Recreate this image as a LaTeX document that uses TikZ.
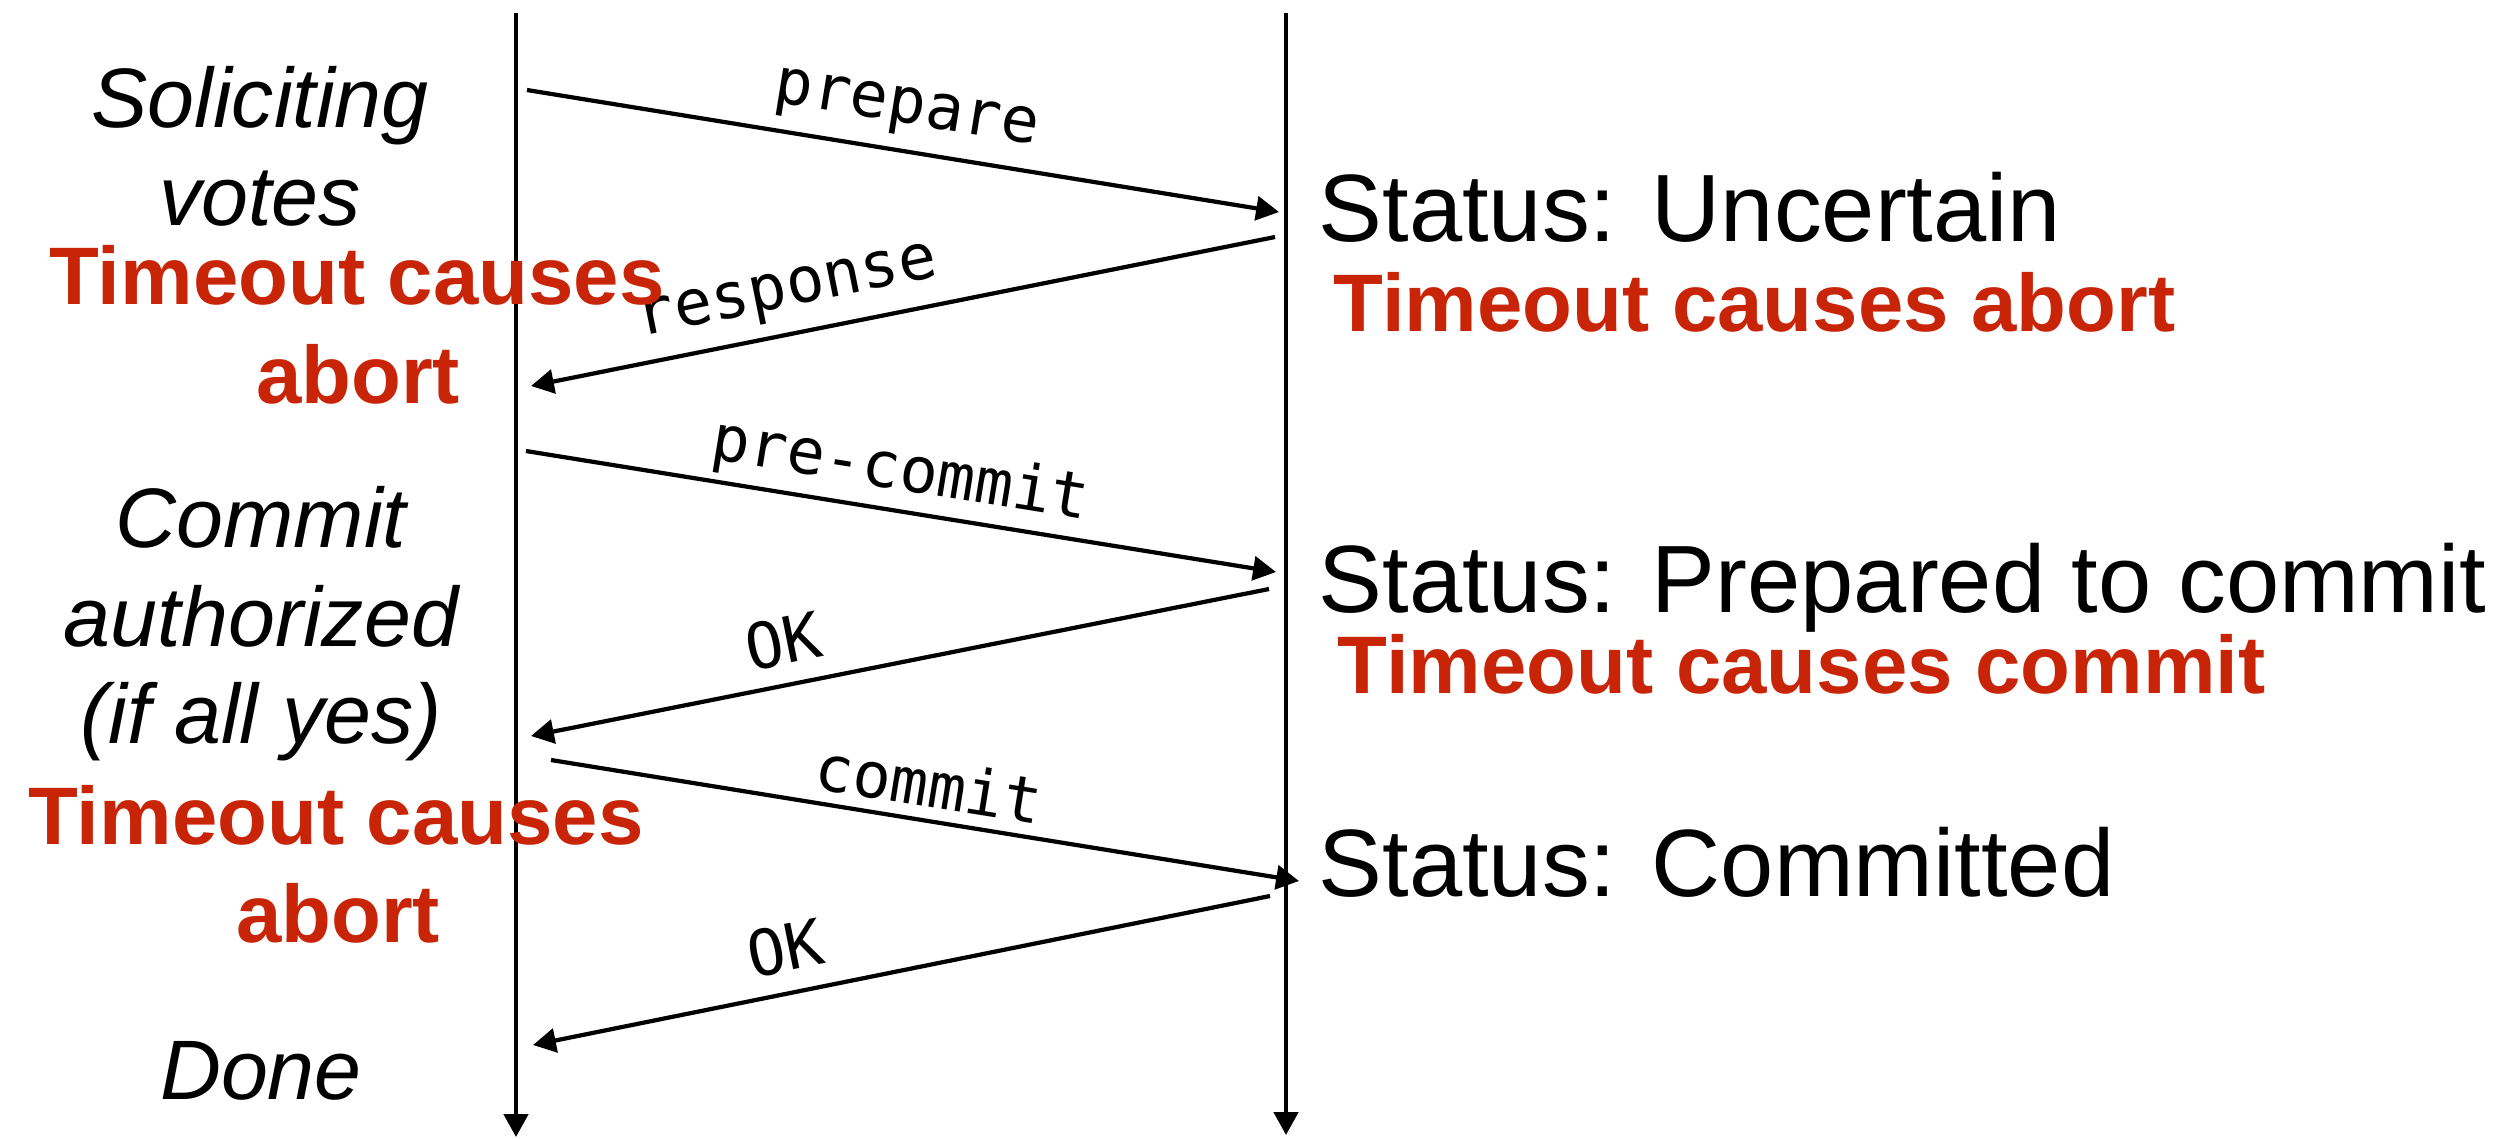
\documentclass[tikz,border=0pt]{standalone}
\usepackage{fontspec}
\setmainfont{Liberation Sans}
\setmonofont{DejaVu Sans Mono}
\usetikzlibrary{arrows.meta}
\definecolor{tred}{RGB}{200,37,8}
\begin{document}
\begin{tikzpicture}[x=0.01cm,y=-0.01cm,
  life/.style={line width=1.3pt,-{Triangle[length=6.5pt,width=6.8pt]}},
  msg/.style={line width=1.2pt,-{Triangle[length=6.5pt,width=6.8pt]}},
  lbl/.style={font=\fontsize{18}{20}\selectfont\ttfamily,inner sep=0pt,anchor=center},
  phase/.style={font=\fontsize{24}{28}\selectfont\itshape,inner sep=0pt,anchor=base},
  warn/.style={font=\fontsize{23.2}{27}\selectfont\bfseries,text=tred,inner sep=0pt},
  stat/.style={font=\fontsize{27.2}{32}\selectfont,inner sep=0pt,anchor=base west}]
\useasboundingbox (0,0) rectangle (2505,1138);
% lifelines
\coordinate (Ltop) at (516,13);
\coordinate (Lbot) at (516,1137);
\coordinate (Rtop) at (1286,13);
\coordinate (Rbot) at (1286,1135);
\draw[life] (Ltop) -- (Lbot);
\draw[life] (Rtop) -- (Rbot);
% message end points
\coordinate (p1) at (527,90);   \coordinate (p2) at (1279,212);
\coordinate (r1) at (1275,237); \coordinate (r2) at (531,386);
\coordinate (c1) at (526,451);  \coordinate (c2) at (1276,572);
\coordinate (o1) at (1269,589); \coordinate (o2) at (531,736);
\coordinate (m1) at (551,760);  \coordinate (m2) at (1299,881);
\coordinate (k1) at (1270,896); \coordinate (k2) at (533,1045);
\draw[msg] (p1) -- (p2);
\draw[msg] (r1) -- (r2);
\draw[msg] (c1) -- (c2);
\draw[msg] (o1) -- (o2);
\draw[msg] (m1) -- (m2);
\draw[msg] (k1) -- (k2);
% message labels
\node[lbl,rotate=-9.2] (lprep) at (906,112) {prepare};
\node[lbl,rotate=11.4] (lresp) at (788,295) {response};
\node[lbl,rotate=-9.2] (lprec) at (900,472) {pre-commit};
\node[lbl,rotate=11.3] (lok1) at (783,641) {OK};
\node[lbl,rotate=-9.1] (lcomm) at (929,783) {commit};
\node[lbl,rotate=11.4] (lok2) at (785,948) {OK};
% coordinator phases
\node[phase] (s1) at (260,127) {Soliciting};
\node[phase] (s2) at (260,225) {votes};
\node[phase] (a1) at (261,547) {Commit};
\node[phase] (a2) at (261,646) {authorized};
\node[phase] (a3) at (261,743) {(if all yes)};
\node[phase] (d1) at (261,1099) {Done};
% coordinator timeouts
\node[warn,anchor=base] (t1a) at (357,304) {Timeout causes};
\node[warn,anchor=base] (t1b) at (358,403) {abort};
\node[warn,anchor=base] (t2a) at (336,844) {Timeout causes};
\node[warn,anchor=base] (t2b) at (338,942) {abort};
% participant status
\node[stat] (u1) at (1318,241) {Status: Uncertain};
\node[warn,anchor=base west] (u2) at (1333,331) {Timeout causes abort};
\node[stat] (pc1) at (1318,612) {Status: Prepared to commit};
\node[warn,anchor=base west] (pc2) at (1337,693) {Timeout causes commit};
\node[stat] (cm1) at (1318,896) {Status: Committed};
\end{tikzpicture}
\end{document}
